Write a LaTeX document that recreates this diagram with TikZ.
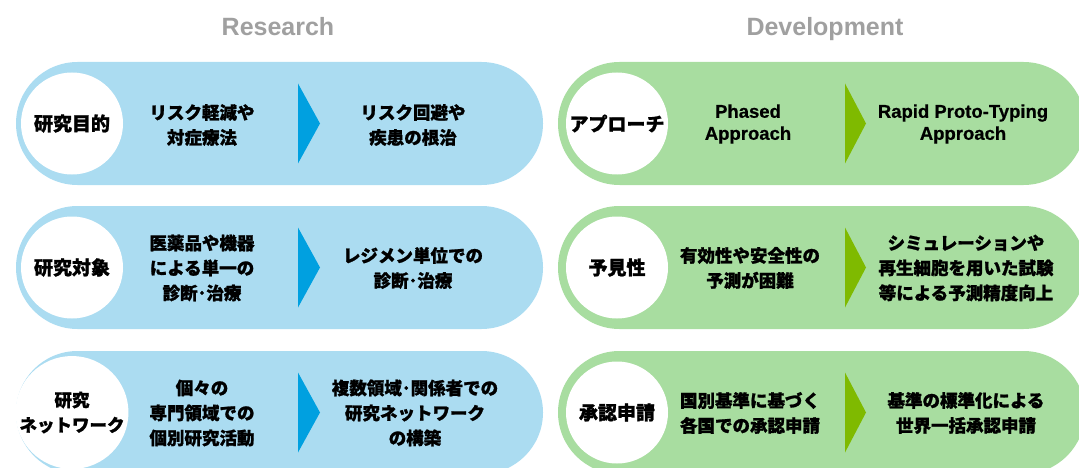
\documentclass[tikz,border=0pt]{standalone}
\usepackage{fontspec}
\setmainfont{Liberation Sans}[BoldFeatures={FakeBold=0.6}]
\newfontfamily\jp{Noto Sans CJK JP}[BoldFeatures={FakeBold=1.2}]
\newfontfamily\hd{Liberation Sans}
\usetikzlibrary{positioning}
\definecolor{pillblue}{HTML}{ABDCF1}
\definecolor{pillgreen}{HTML}{A8DDA0}
\definecolor{triblue}{HTML}{00A0E0}
\definecolor{trigreen}{HTML}{7FBA00}
\definecolor{headgray}{HTML}{A0A0A0}
\tikzset{
  pillbox/.style={rectangle, rounded corners=61.5pt, minimum width=527pt, minimum height=123pt, inner sep=0pt},
  labelcircle/.style={circle, fill=white, minimum size=102pt, inner sep=0pt, align=center, font=\jp\bfseries\fontsize{19}{23}\selectfont},
  bodytext/.style={align=center, inner sep=0pt, font=\jp\bfseries\fontsize{17.5}{25}\selectfont},
  entext/.style={align=center, inner sep=0pt, font=\bfseries\fontsize{18.5}{22}\selectfont},
  header/.style={font=\hd\bfseries\fontsize{25}{28}\selectfont, text=headgray, anchor=base},
}
\begin{document}
\begin{tikzpicture}[x=1pt,y=-1pt]
\useasboundingbox (0,0) rectangle (1079,468);
\clip (0,0) rectangle (1079,468);
\node[header] (hR) at (278,36) {Research};
\node[header] (hD) at (825,36) {Development};
% pills and arrows
\foreach \r/\y in {1/123.5,2/267.5,3/412.5}{
  \node[pillbox, fill=pillblue] (lp\r) at (279.5,\y) {};
  \fill[triblue] (298,\y-40) -- (320,\y) -- (298,\y+40) -- cycle;
  \node[pillbox, fill=pillgreen] (rp\r) at (821.5,\y) {};
  \fill[trigreen] (845,\y-40) -- (866,\y) -- (845,\y+40) -- cycle;
}
% Row 1
\node[labelcircle] (lc1) at (72,123.5) {研究目的};
\node[bodytext] (la1) at (202,125) {リスク軽減や\\対症療法};
\node[bodytext] (lb1) at (413,125) {リスク回避や\\疾患の根治};
\node[labelcircle] (rc1) at (617,123.5) {アプローチ};
\node[entext] (ra1) at (748,124) {Phased\\Approach};
\node[entext] (rb1) at (963,124) {Rapid Proto-Typing\\Approach};
% Row 2
\node[labelcircle] (lc2) at (72,267.5) {研究対象};
\node[bodytext] (la2) at (202,268) {医薬品や機器\\による単一の\\診断･治療};
\node[bodytext] (lb2) at (413,268) {レジメン単位での\\診断･治療};
\node[labelcircle] (rc2) at (617,267.5) {予見性};
\node[bodytext] (ra2) at (750,268) {有効性や安全性の\\予測が困難};
\node[bodytext] (rb2) at (966,268) {シミュレーションや\\再生細胞を用いた試験\\等による予測精度向上};
% Row 3
\node[labelcircle, font=\jp\bfseries\fontsize{17.5}{25}\selectfont] (lc3) at (72,412.5) {研究\\ネットワーク};
\node[bodytext] (la3) at (202,413) {個々の\\専門領域での\\個別研究活動};
\node[bodytext] (lb3) at (415,413) {複数領域･関係者での\\研究ネットワーク\\の構築};
\node[labelcircle] (rc3) at (617,412.5) {承認申請};
\node[bodytext] (ra3) at (750,413) {国別基準に基づく\\各国での承認申請};
\node[bodytext] (rb3) at (966,413) {基準の標準化による\\世界一括承認申請};
\end{tikzpicture}
\end{document}
